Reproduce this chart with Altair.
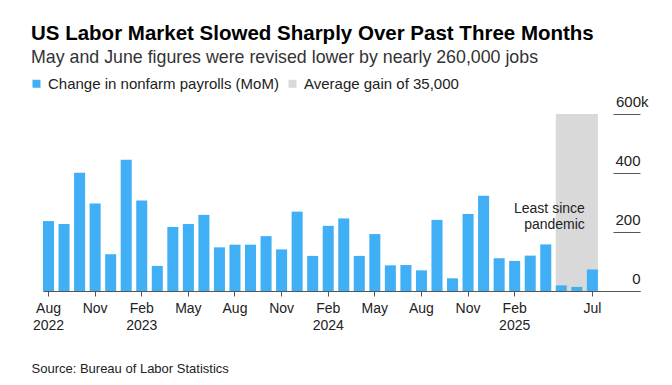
import json
import altair as alt
import pandas as pd

months = [
    "2022-08", "2022-09", "2022-10", "2022-11", "2022-12",
    "2023-01", "2023-02", "2023-03", "2023-04", "2023-05", "2023-06",
    "2023-07", "2023-08", "2023-09", "2023-10", "2023-11", "2023-12",
    "2024-01", "2024-02", "2024-03", "2024-04", "2024-05", "2024-06",
    "2024-07", "2024-08", "2024-09", "2024-10", "2024-11", "2024-12",
    "2025-01", "2025-02", "2025-03", "2025-04", "2025-05", "2025-06",
    "2025-07",
]
payrolls_k = [
    237, 227, 401, 297, 125,
    445, 307, 85, 217, 227, 258,
    148, 157, 157, 186, 141, 269,
    119, 221, 246, 119, 193, 87,
    88, 70, 241, 43, 261, 323,
    111, 102, 120, 158, 19, 14,
    73,
]
# empty slots kept to the right of the bars (room for the value axis)
future_months = ["2025-08", "2025-09"]

tick_months = ["2022-08", "2022-11", "2023-02", "2023-05", "2023-08", "2023-11",
               "2024-02", "2024-05", "2024-08", "2024-11", "2025-02", "2025-07"]
tick_labels = ["Aug|2022", "Nov", "Feb|2023", "May", "Aug", "Nov",
               "Feb|2024", "May", "Aug", "Nov", "Feb|2025", "Jul"]

y_ticks = [0, 200, 400, 600]

series_names = ["Change in nonfarm payrolls (MoM)", "Average gain of 35,000"]
series_colors = ["#40aff5", "#d9d9d9"]

shade_start = "2025-05"
shade_end = "2025-07"
shade_top = 600

annot_month = "2025-06"
annot_value = 266
annot_text = ["Least since", "pandemic"]

FONT = "Liberation Sans"

bars_df = pd.DataFrame({"month": months, "value": payrolls_k, "series": series_names[0]})
shade_df = pd.DataFrame({"start": [shade_start], "end": [shade_end], "bottom": [0],
                         "top": [shade_top], "series": [series_names[1]]})
annot_df = pd.DataFrame({"month": [annot_month], "value": [annot_value], "text": [annot_text]})

label_expr = (
    f"indexof({json.dumps(tick_months)}, datum.value) < 0 ? '' : "
    f"split({json.dumps(tick_labels)}[indexof({json.dumps(tick_months)}, datum.value)], '|')"
)

x_scale = alt.Scale(domain=months + future_months, paddingInner=0.29,
                    paddingOuter=0.355, align=0)
y_scale = alt.Scale(domain=[0, 600], nice=False)

color_scale = alt.Scale(domain=series_names, range=series_colors)

x_axis = alt.Axis(
    values=tick_months, labelExpr=label_expr, labelAngle=0,
    labelFont=FONT, labelFontSize=14, labelColor="#222", labelLineHeight=17,
    labelPadding=5, labelBaseline="top",
    tickSize=5, tickColor="#555", domainColor="#555", domainWidth=1,
    grid=False, zindex=1,
    title="Source: Bureau of Labor Statistics", titleFont=FONT, titleFontSize=13,
    titleFontWeight="normal", titleColor="#222", titleAnchor="start", titleAlign="left",
    titleBaseline="middle", titleX=-12, titleY=77,
)

y_axis = alt.Axis(
    orient="right", offset=-27, values=y_ticks, domain=False, grid=False,
    tickSize=27, tickColor="#555", tickWidth=1,
    labelExpr="datum.value == 600 ? '600k' : datum.label",
    labelFont=FONT, labelFontSize=15, labelColor="#222",
    labelAlign="right",
    labelPadding={"condition": {"test": "datum.value == 600", "value": 8}, "value": 0},
    labelOffset=-8,
    labelBaseline="alphabetic", title=None,
)

legend = alt.Legend(
    orient="none", legendX=-14, legendY=-38, direction="horizontal", title=None,
    symbolType="square", symbolSize=64, symbolStrokeWidth=0,
    labelFont=FONT, labelFontSize=15, labelColor="#222", labelOffset=4,
    labelLimit=400, columnPadding=6,
)

shade = alt.Chart(shade_df).mark_rect().encode(
    x=alt.X("start:O", scale=x_scale, axis=x_axis, bandPosition=0),
    x2=alt.X2("end", bandPosition=1),
    y=alt.Y("bottom:Q", scale=y_scale, axis=y_axis),
    y2="top:Q",
    color=alt.Color("series:N", scale=color_scale, legend=legend),
)

bars = alt.Chart(bars_df).mark_bar().encode(
    x=alt.X("month:O", scale=x_scale, axis=x_axis),
    y=alt.Y("value:Q", scale=y_scale, axis=y_axis),
    color=alt.Color("series:N", scale=color_scale, legend=legend),
)

annot = alt.Chart(annot_df).mark_text(
    align="right", baseline="alphabetic", dx=8, font=FONT, fontSize=14,
    color="#222", lineHeight=16,
).encode(
    x=alt.X("month:O", scale=x_scale),
    y=alt.Y("value:Q", scale=y_scale),
    text="text",
)

chart = alt.layer(shade, bars, annot).properties(
    width=597, height=177,
    background="white",
    autosize=alt.AutoSizeParams(type="none"),
    padding={"left": 35, "top": 106, "right": 24, "bottom": 86},
    title=alt.TitleParams(
        text="US Labor Market Slowed Sharply Over Past Three Months",
        subtitle="May and June figures were revised lower by nearly 260,000 jobs",
        anchor="start", frame="group", dx=-12,
        font=FONT, fontSize=20.5, fontWeight="bold", color="#000",
        subtitleFont=FONT, subtitleFontSize=17.8, subtitleColor="#333",
        subtitlePadding=5, offset=9,
    ),
).configure_view(stroke=None)

chart.save("out.html", embed_options={"renderer": "svg", "actions": False})
